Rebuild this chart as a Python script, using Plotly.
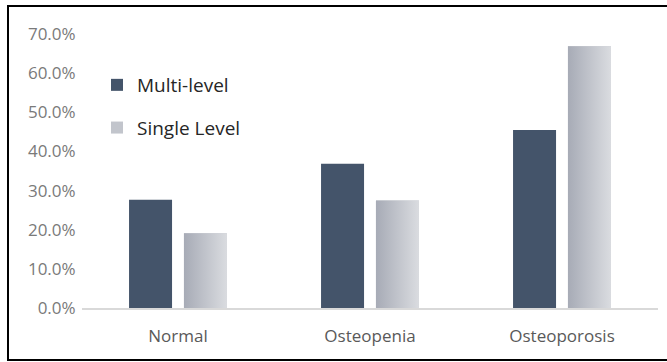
import plotly.graph_objects as go

# Share of patients by bone density category
categories = ["Normal", "Osteopenia", "Osteoporosis"]
multi_level = [27.7, 36.9, 45.5]
single_level = [19.1, 27.5, 66.9]
y_ticks = [0, 10, 20, 30, 40, 50, 60, 70]

x_pos = list(range(len(categories)))
BAR_W = 0.224
OFF_MULTI = -0.255
OFF_SINGLE = 0.031

DARK = "#44546a"
GRAY_LO = "#a7abb6"
GRAY_HI = "#dadce0"
FONT = "Open Sans"

fig = go.Figure()

fig.add_trace(go.Bar(
    x=x_pos, y=multi_level, name="Multi-level",
    width=BAR_W, offset=OFF_MULTI,
    marker=dict(color=DARK, line=dict(width=0)),
    legendgroup="a",
))
fig.add_trace(go.Bar(
    x=x_pos, y=single_level, name="Single Level",
    width=BAR_W, offset=OFF_SINGLE,
    marker=dict(color="#c2c5cc", line=dict(width=0)),
    legendgroup="b",
))

# gradient fill laid over each single-level bar
for xi, v in zip(x_pos, single_level):
    x0 = xi + OFF_SINGLE
    x1 = x0 + BAR_W
    fig.add_trace(go.Scatter(
        x=[x0, x1, x1, x0, x0], y=[0, 0, v, v, 0],
        mode="lines", fill="toself", line=dict(width=0),
        fillgradient=dict(type="horizontal",
                          colorscale=[[0, GRAY_LO], [1, GRAY_HI]]),
        showlegend=False, hoverinfo="skip",
    ))

fig.update_layout(
    width=667, height=362,
    margin=dict(l=82, r=9, t=33, b=54),
    paper_bgcolor="white", plot_bgcolor="white",
    barmode="overlay",
    font=dict(family=FONT, color="#595959"),
    showlegend=True,
    legend=dict(
        x=(97 - 82) / 576, xanchor="left",
        y=(308 - 66) / 275, yanchor="top",
        bgcolor="rgba(0,0,0,0)",
        font=dict(size=19, color="#262626", family=FONT),
        tracegroupgap=15,
        itemclick=False,
    ),
    xaxis=dict(
        range=[-0.5, 2.5],
        tickvals=x_pos, ticktext=categories,
        tickfont=dict(size=17, color="#595959"),
        showgrid=False, zeroline=False,
        showline=True, linecolor="#d9d9d9", linewidth=1.5,
        ticks="outside", ticklen=12, tickcolor="rgba(0,0,0,0)",
    ),
    yaxis=dict(
        range=[0, 70.3],
        tickvals=y_ticks,
        ticktext=[f"{t:.1f}%" for t in y_ticks],
        tickfont=dict(size=17, color="#7a7a7a"),
        showgrid=False, zeroline=False, showline=False,
        ticks="outside", ticklen=2, tickcolor="rgba(0,0,0,0)",
    ),
    shapes=[dict(
        type="rect", xref="paper", yref="paper",
        x0=(8 - 82) / 576, x1=(672 - 82) / 576,
        y0=(308 - 360) / 275, y1=(308 - 6) / 275,
        line=dict(color="black", width=2), fillcolor="rgba(0,0,0,0)",
        layer="above",
    )],
)

fig.write_html("out.html")
